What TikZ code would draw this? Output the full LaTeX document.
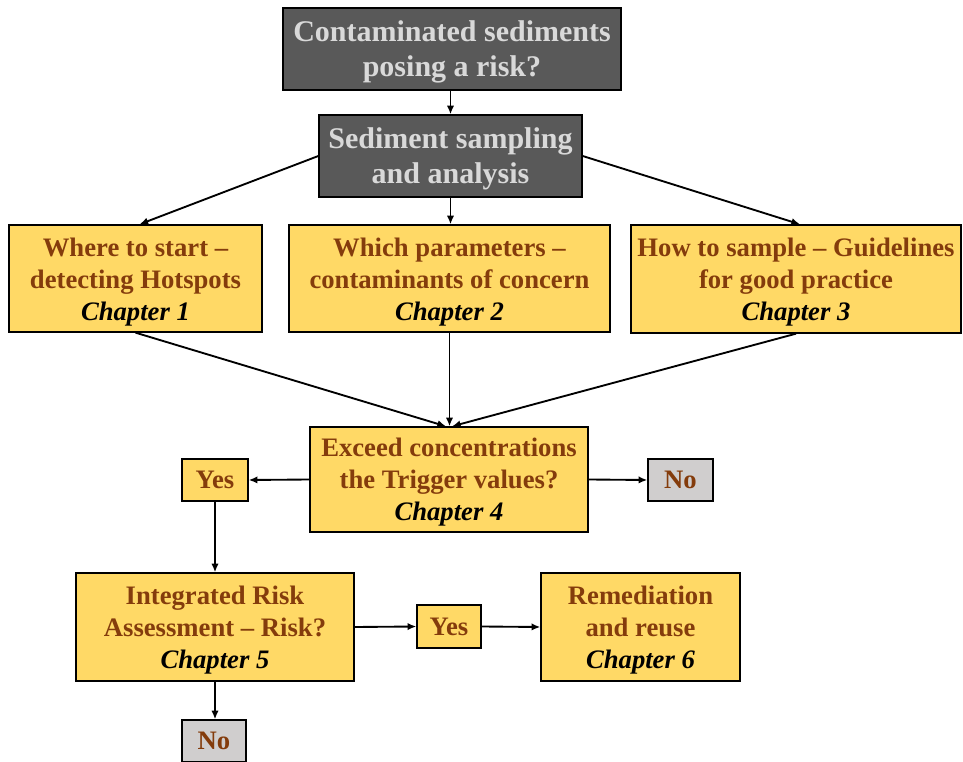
\documentclass[tikz,border=0pt]{standalone}
\usepackage{fontspec}
\setmainfont{Liberation Serif}
\usetikzlibrary{arrows.meta,calc}
\definecolor{darkbox}{HTML}{595959}
\definecolor{lighttext}{HTML}{D9D9D9}
\definecolor{yellowbox}{HTML}{FFD966}
\definecolor{browntext}{HTML}{843C0C}
\definecolor{greybox}{HTML}{D0CECE}
\tikzset{
  basebox/.style={draw=black, line width=1pt, inner sep=0pt, align=center,
    font=\fontsize{20}{24}\selectfont\bfseries},
  darkstep/.style={basebox, fill=darkbox},
  yellowstep/.style={basebox, fill=yellowbox, text=browntext},
  greystep/.style={basebox, fill=greybox, text=browntext},
  darktext/.style={inner sep=0pt, align=center, text=lighttext,
    font=\fontsize{22.5}{26}\selectfont\bfseries},
  yellowtext/.style={inner sep=0pt, align=center, text=browntext,
    font=\fontsize{20}{24}\selectfont\bfseries},
  arr/.style={line width=1.4pt, -{Latex[length=6.5pt,width=5.5pt]}},
}
\newcommand{\chap}[1]{{\color{black}\itshape #1}}
\begin{document}
\begin{tikzpicture}[x=0.75pt,y=-0.75pt]
\useasboundingbox (0,0) rectangle (963,762);
% boxes
\node[darkstep, minimum width=253.5pt, minimum height=61.5pt] (top) at (452,49) {};
\node[darkstep, minimum width=197.25pt, minimum height=61.5pt] (samp) at (450.5,156) {};
\node[yellowstep, minimum width=189.75pt, minimum height=80.25pt] (ch1) at (135.5,278.5) {};
\node[yellowstep, minimum width=240.75pt, minimum height=80.25pt] (ch2) at (449.5,278.5) {};
\node[yellowstep, minimum width=247.5pt, minimum height=81pt] (ch3) at (796,279) {};
\node[yellowstep, minimum width=208.5pt, minimum height=78.75pt] (ch4) at (449,479.5) {};
\node[yellowstep, minimum width=49.5pt, minimum height=31.5pt] (yes1) at (215,480) {Yes};
\node[greystep, minimum width=48.75pt, minimum height=31.5pt] (no1) at (680.5,480) {No};
\node[yellowstep, minimum width=208.5pt, minimum height=81pt] (ch5) at (215,627) {};
\node[yellowstep, minimum width=48pt, minimum height=32.25pt] (yes2) at (449,626.5) {Yes};
\node[yellowstep, minimum width=149.25pt, minimum height=81pt] (ch6) at (640.5,627) {};
\node[greystep, minimum width=48pt, minimum height=31.5pt] (no2) at (214,741) {No};
% texts
\node[darktext] (topt) at ($(top)+(0,3)$) {Contaminated sediments\\posing a risk?};
\node[darktext] (sampt) at ($(samp)+(0,3)$) {Sediment sampling\\and analysis};
\node[yellowtext] (ch1t) at ($(ch1)+(0,3.5)$) {Where to start --\\detecting Hotspots\\\chap{Chapter 1}};
\node[yellowtext] (ch2t) at ($(ch2)+(0,3.5)$) {Which parameters --\\contaminants of concern\\\chap{Chapter 2}};
\node[yellowtext] (ch3t) at ($(ch3)+(0,3.5)$) {How to sample -- Guidelines\\for good practice\\\chap{Chapter 3}};
\node[yellowtext] (ch4t) at ($(ch4)+(0,3)$) {Exceed concentrations\\the Trigger values?\\\chap{Chapter 4}};
\node[yellowtext] (ch5t) at ($(ch5)+(0,3.5)$) {Integrated Risk\\Assessment -- Risk?\\\chap{Chapter 5}};
\node[yellowtext] (ch6t) at ($(ch6)+(0,3.5)$) {Remediation\\and reuse\\\chap{Chapter 6}};
% connectors
\draw[arr] (top.south -| samp.north) -- (samp.north);
\draw[arr] (samp.west) -- ($(ch1.north)+(4,0)$);
\draw[arr] (samp.south) -- (samp.south |- ch2.north);
\draw[arr] (samp.east) -- ($(ch3.north)+(4,0)$);
\draw[arr] (ch1.south) -- ($(ch4.north)+(-3,0)$);
\draw[arr] (ch2.south) -- ($(ch4.north)+(0.5,0)$);
\draw[arr] (ch3.south) -- ($(ch4.north)+(3,0)$);
\draw[arr] (ch4.west) -- (yes1.east);
\draw[arr] (ch4.east) -- (no1.west);
\draw[arr] (yes1.south) -- (yes1.south |- ch5.north);
\draw[arr] (ch5.east) -- (yes2.west);
\draw[arr] (yes2.east) -- (ch6.west);
\draw[arr] (ch5.south) -- (ch5.south |- no2.north);
\end{tikzpicture}
\end{document}
